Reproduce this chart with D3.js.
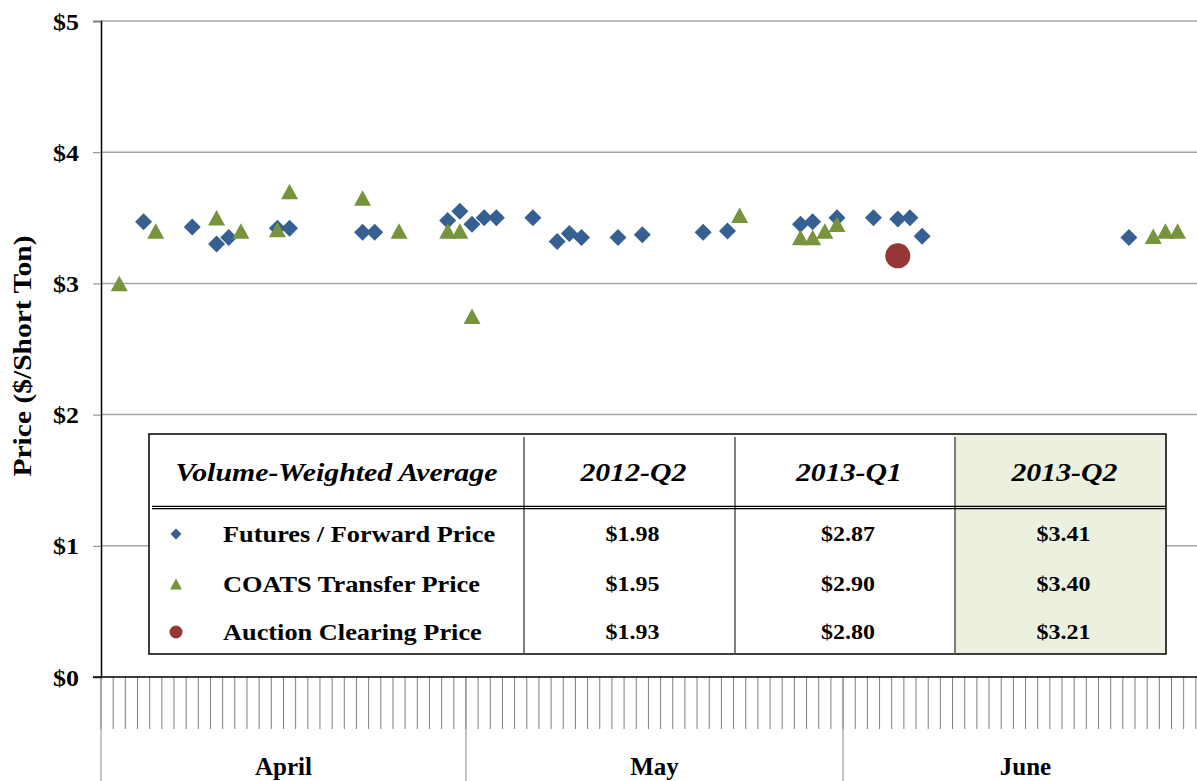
<!DOCTYPE html>
<html>
<head>
<meta charset="utf-8">
<script src="https://cdn.jsdelivr.net/npm/d3@7"></script>
<style>
  html, body { margin: 0; padding: 0; background: #fff; }
  svg { display: block; }
  text { font-family: "Liberation Serif", "Times New Roman", serif; font-weight: bold; }
</style>
</head>
<body>
<svg id="chart" width="1197" height="781"></svg>
<script>
// ---------------- data ----------------
const futuresDates = ["2013-04-04","2013-04-08","2013-04-10","2013-04-11","2013-04-15","2013-04-16","2013-04-22","2013-04-23","2013-04-29","2013-04-30","2013-05-01","2013-05-02","2013-05-03","2013-05-06","2013-05-08","2013-05-09","2013-05-10","2013-05-13","2013-05-15","2013-05-20","2013-05-22","2013-05-28","2013-05-29","2013-05-31","2013-06-03","2013-06-05","2013-06-06","2013-06-07","2013-06-24"];
const futuresValues = [3.47,3.43,3.30,3.35,3.42,3.42,3.39,3.39,3.48,3.55,3.45,3.50,3.50,3.50,3.32,3.38,3.35,3.35,3.37,3.39,3.40,3.45,3.47,3.50,3.50,3.49,3.50,3.36,3.35];

const coatsDates = ["2013-04-02","2013-04-05","2013-04-10","2013-04-12","2013-04-15","2013-04-16","2013-04-22","2013-04-25","2013-04-29","2013-04-30","2013-05-01","2013-05-23","2013-05-28","2013-05-29","2013-05-30","2013-05-31","2013-06-26","2013-06-27","2013-06-28"];
const coatsValues = [3.00,3.40,3.50,3.40,3.41,3.70,3.65,3.40,3.40,3.40,2.75,3.52,3.35,3.35,3.40,3.45,3.36,3.40,3.40];

const auctionDates = ["2013-06-05"];
const auctionValues = [3.21];

const yTicks = [0,1,2,3,4,5];
const months = ["April","May","June"];

const tableHeaders = ["Volume-Weighted Average","2012-Q2","2013-Q1","2013-Q2"];
const tableSeries = ["Futures / Forward Price","COATS Transfer Price","Auction Clearing Price"];
const table2012Q2 = ["$1.98","$1.95","$1.93"];
const table2013Q1 = ["$2.87","$2.90","$2.80"];
const table2013Q2 = ["$3.41","$3.40","$3.21"];

// ---------------- layout ----------------
const svg = d3.select("#chart");
const L = 101, R = 1208, T = 21, B = 677;
const colors = { futures: "#376092", coats: "#77933C", auction: "#953735" };

const fmtDay = d3.timeFormat("%Y-%m-%d");
const allDays = d3.timeDay.range(new Date(2013,3,1), new Date(2013,6,1)).map(fmtDay);

const x = d3.scaleBand().domain(allDays).range([L, R]).padding(0);
const bw = x.bandwidth();
const xc = d => x(d) + bw / 2;
const y = d3.scaleLinear().domain([0, 5]).range([B, T]);

// horizontal stretch helper (reference text is slightly widened)
function stretch(sel, f) {
  sel.each(function () {
    const n = this.getComputedTextLength();
    d3.select(this).attr("textLength", n * f).attr("lengthAdjust", "spacingAndGlyphs");
  });
}

// gridlines
svg.append("g").selectAll("line").data(yTicks.filter(v => v > 0)).join("line")
  .attr("x1", L).attr("x2", R).attr("y1", d => y(d)).attr("y2", d => y(d))
  .attr("stroke", "#A6A6A6").attr("stroke-width", 1.5);

// y axis
const yAxis = d3.axisLeft(y).tickValues(yTicks).tickSize(8).tickFormat(d => "$" + d);
const gy = svg.append("g").attr("transform", `translate(${L},0)`).call(yAxis);
gy.select(".domain").attr("stroke", "#000").attr("stroke-width", 1.5);
gy.selectAll(".tick line").attr("stroke", "#808080");
gy.selectAll(".tick text").attr("font-size", 24).attr("font-weight", "bold")
  .attr("fill", "#000").attr("x", -22).attr("dy", "0.34em");
stretch(gy.selectAll(".tick text"), 1.08);

// y title
svg.append("text").attr("transform", `translate(31,356) rotate(-90)`)
  .attr("text-anchor", "middle").attr("font-size", 25)
  .attr("textLength", 241).attr("lengthAdjust", "spacingAndGlyphs")
  .text("Price ($/Short Ton)");

// x day ticks (band boundaries)
const boundaries = allDays.map(d => x(d)).concat([R]);
const monthStarts = ["2013-04-01","2013-05-01","2013-06-01"].map(d => x(d));
svg.append("g").selectAll("line").data(boundaries).join("line")
  .attr("x1", d => d).attr("x2", d => d).attr("y1", B).attr("y2", 729)
  .attr("stroke", "#7f7f7f").attr("stroke-width", 1);
svg.append("g").selectAll("line").data(monthStarts).join("line")
  .attr("x1", d => d).attr("x2", d => d).attr("y1", B).attr("y2", 781)
  .attr("stroke", "#8c8c8c").attr("stroke-width", 1);

// x axis line
svg.append("line").attr("x1", L - 8).attr("x2", R).attr("y1", B).attr("y2", B)
  .attr("stroke", "#000").attr("stroke-width", 1.5);

// month labels
const monthEnds = monthStarts.slice(1).concat([R]);
svg.append("g").selectAll("text").data(months).join("text")
  .attr("x", (d, i) => (monthStarts[i] + monthEnds[i]) / 2).attr("y", 775)
  .attr("text-anchor", "middle").attr("font-size", 25).text(d => d);

// ---------------- marks ----------------
function diamondPath(cx, cy, r) {
  return `M${cx},${cy - r}L${cx + r},${cy}L${cx},${cy + r}L${cx - r},${cy}Z`;
}
function trianglePath(cx, cy, w, h) {
  return `M${cx},${cy - h / 2}L${cx + w / 2},${cy + h / 2}L${cx - w / 2},${cy + h / 2}Z`;
}

const futures = futuresDates.map((d, i) => ({ d, v: futuresValues[i] }));
const coats = coatsDates.map((d, i) => ({ d, v: coatsValues[i] }));
const auction = auctionDates.map((d, i) => ({ d, v: auctionValues[i] }));

svg.append("g").selectAll("path").data(futures).join("path")
  .attr("d", p => diamondPath(xc(p.d), y(p.v), 8.5)).attr("fill", colors.futures);
svg.append("g").selectAll("path").data(coats).join("path")
  .attr("d", p => trianglePath(xc(p.d), y(p.v), 17, 15.5)).attr("fill", colors.coats);
svg.append("g").selectAll("circle").data(auction).join("circle")
  .attr("cx", p => xc(p.d)).attr("cy", p => y(p.v)).attr("r", 12.5).attr("fill", colors.auction);

// ---------------- table ----------------
const tL = 149, tR = 1166, tT = 434, tB = 654, tRule = 507.5;
const colX = [tL, 524, 735, 955, tR];
const rowY = [534, 584, 632];
const tg = svg.append("g");
tg.append("rect").attr("x", tL).attr("y", tT).attr("width", tR - tL).attr("height", tB - tT)
  .attr("fill", "#fff");
tg.append("rect").attr("x", colX[3]).attr("y", tT).attr("width", tR - colX[3]).attr("height", tB - tT)
  .attr("fill", "#EBF1DE");
tg.append("rect").attr("x", tL).attr("y", tT).attr("width", tR - tL).attr("height", tB - tT)
  .attr("fill", "none").attr("stroke", "#000").attr("stroke-width", 1.5);
tg.selectAll("line.div").data(colX.slice(1, 4)).join("line").attr("class", "div")
  .attr("x1", d => d).attr("x2", d => d).attr("y1", tT + 3).attr("y2", tB)
  .attr("stroke", "#555").attr("stroke-width", 1.5);
tg.append("line").attr("x1", tL + 3).attr("x2", tR).attr("y1", tRule - 1.2).attr("y2", tRule - 1.2)
  .attr("stroke", "#000").attr("stroke-width", 1.2);
tg.append("line").attr("x1", tL + 3).attr("x2", tR).attr("y1", tRule + 1.2).attr("y2", tRule + 1.2)
  .attr("stroke", "#000").attr("stroke-width", 1.2);

const hdr = tg.selectAll("text.hdr").data(tableHeaders).join("text").attr("class", "hdr")
  .attr("x", (d, i) => (colX[i] + colX[i + 1]) / 2 + (i === 0 ? 0 : 4)).attr("y", 481)
  .attr("text-anchor", "middle").attr("font-size", 25.5).attr("font-style", "italic").text(d => d);
stretch(hdr, 1.17);

const lbl = tg.selectAll("text.lbl").data(tableSeries).join("text").attr("class", "lbl")
  .attr("x", 223).attr("y", (d, i) => rowY[i] + 7.5).attr("font-size", 22.5).text(d => d);
stretch(lbl, 1.17);

const cols = [table2012Q2, table2013Q1, table2013Q2];
cols.forEach((col, ci) => {
  const v = tg.selectAll("text.v" + ci).data(col).join("text").attr("class", "v" + ci)
    .attr("x", (colX[ci + 1] + colX[ci + 2]) / 2 + 3).attr("y", (d, i) => rowY[i] + 7)
    .attr("text-anchor", "middle").attr("font-size", 20.5).text(d => d);
  stretch(v, 1.17);
});

// legend markers in table
const lx = 176;
tg.append("path").attr("d", diamondPath(lx, rowY[0], 5.5)).attr("fill", colors.futures);
tg.append("path").attr("d", trianglePath(lx, rowY[1], 12, 11)).attr("fill", colors.coats);
tg.append("circle").attr("cx", lx).attr("cy", rowY[2]).attr("r", 6.5).attr("fill", colors.auction);
</script>
</body>
</html>
